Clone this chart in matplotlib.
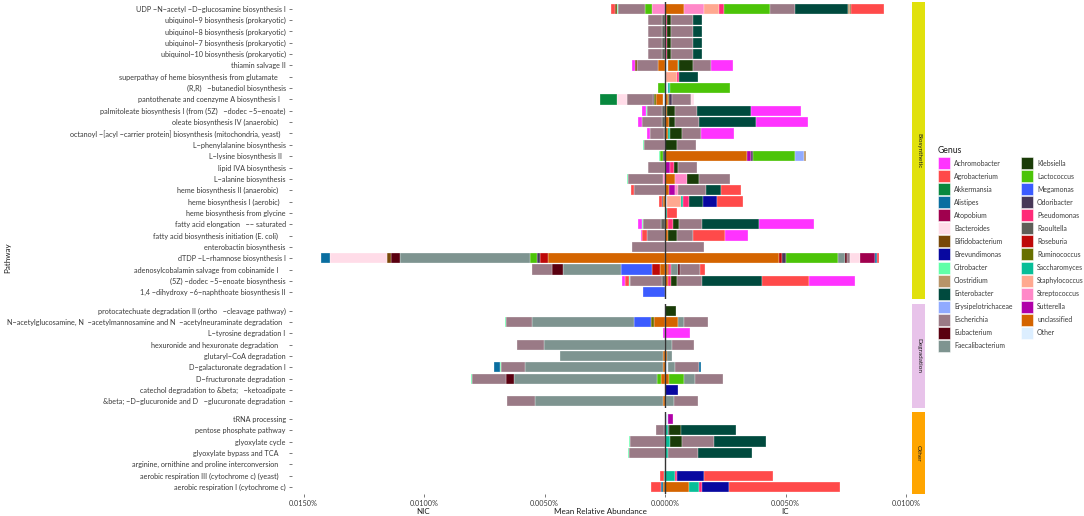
import matplotlib
matplotlib.use("Agg")
import matplotlib.pyplot as plt
from matplotlib.patches import Rectangle

plt.rcParams['font.family'] = ['Lato', 'DejaVu Sans']

# ---------------- data (values in units of 0.001 % mean relative abundance) -------------
genera = ["Achromobacter", "Agrobacterium", "Akkermansia", "Alistipes", "Atopobium",
          "Bacteroides", "Bifidobacterium", "Brevundimonas", "Citrobacter", "Clostridium",
          "Enterobacter", "Erysipelotrichaceae", "Escherichia", "Eubacterium",
          "Faecalibacterium", "Klebsiella", "Lactococcus", "Megamonas", "Odoribacter",
          "Pseudomonas", "Raoultella", "Roseburia", "Ruminococcus", "Saccharomyces",
          "Staphylococcus", "Streptococcus", "Sutterella", "unclassified", "Other"]
genus_colors = ["#FF33FF", "#FF4A4A", "#08883E", "#0A6EA0", "#A0004E",
                "#FFDCE8", "#784808", "#0808A0", "#60FFA8", "#B89468",
                "#004A3E", "#90AAFF", "#9A7A86", "#5A0010",
                "#7E9490", "#1A3C08", "#4CC408", "#3C5CFF", "#483858",
                "#FF2A78", "#5E5E58", "#BE0808", "#687000", "#08BE98",
                "#FFA890", "#FF88C8", "#B000A8", "#D46400", "#DCEEFF"]

facets = ["Biosynthetic", "Degradation", "Other"]
facet_colors = ["#E1E10C", "#E8C3EA", "#FFA500"]

bios_pathways = [
    "UDP −N−acetyl −D−glucosamine biosynthesis I",
    "ubiquinol−9 biosynthesis (prokaryotic)",
    "ubiquinol−8 biosynthesis (prokaryotic)",
    "ubiquinol−7 biosynthesis (prokaryotic)",
    "ubiquinol−10 biosynthesis (prokaryotic)",
    "thiamin salvage II",
    "superpathay of heme biosynthesis from glutamate    ",
    "(R,R)   −butanediol biosynthesis",
    "pantothenate and coenzyme A biosynthesis I   ",
    "palmitoleate biosynthesis I (from (5Z)   −dodec −5−enoate)",
    "oleate biosynthesis IV (anaerobic)    ",
    "octanoyl −[acyl −carrier protein] biosynthesis (mitochondria, yeast)   ",
    "L−phenylalanine biosynthesis",
    "L−lysine biosynthesis II  ",
    "lipid IVA biosynthesis",
    "L−alanine biosynthesis",
    "heme biosynthesis II (anaerobic)    ",
    "heme biosynthesis I (aerobic)   ",
    "heme biosynthesis from glycine",
    "fatty acid elongation   −− saturated",
    "fatty acid biosynthesis initiation (E. coli)    ",
    "enterobactin biosynthesis",
    "dTDP −L−rhamnose biosynthesis I",
    "adenosylcobalamin salvage from cobinamide I    ",
    "(5Z) −dodec −5−enoate biosynthesis",
    "1,4 −dihydroxy −6−naphthoate biosynthesis II",
]
degr_pathways = [
    "protocatechuate degradation II (ortho   −cleavage pathway)",
    "N−acetylglucosamine, N  −acetylmannosamine and N  −acetylneuraminate degradation  ",
    "L−tyrosine degradation I",
    "hexuronide and hexuronate degradation    ",
    "glutaryl−CoA degradation",
    "D−galacturonate degradation I",
    "D−fructuronate degradation",
    "catechol degradation to &beta;   −ketoadipate",
    "&beta; −D−glucuronide and D   −glucuronate degradation",
]
other_pathways = [
    "tRNA processing",
    "pentose phosphate pathway",
    "glyoxylate cycle",
    "glyoxylate bypass and TCA    ",
    "arginine, ornithine and proline interconversion    ",
    "aerobic respiration III (cytochrome c) (yeast)    ",
    "aerobic respiration I (cytochrome c)",
]

ubi_nic = {"Raoultella": .14, "Escherichia": .55, "Citrobacter": .03}
ubi_ic = {"Pseudomonas": .07, "Klebsiella": .17, "Escherichia": .90, "Enterobacter": .41}

bios_nic = [
    {"Streptococcus": .55, "Lactococcus": .28, "Escherichia": 1.11, "Citrobacter": .04, "Bifidobacterium": .10, "Agrobacterium": .18},
    ubi_nic, ubi_nic, ubi_nic, ubi_nic,
    {"unclassified": .28, "Escherichia": .90, "Bifidobacterium": .07, "Achromobacter": .11},
    {},
    {"Lactococcus": .28},
    {"Other": .07, "unclassified": .30, "Ruminococcus": .10, "Odoribacter": .04, "Escherichia": 1.08, "Bacteroides": .41, "Akkermansia": .69},
    {"Raoultella": .14, "Escherichia": .62, "Citrobacter": .04, "Achromobacter": .17},
    {"Raoultella": .14, "Escherichia": .82, "Achromobacter": .18},
    {"Raoultella": .06, "Escherichia": .55, "Achromobacter": .12},
    {"Escherichia": .87, "Citrobacter": .03},
    {"Odoribacter": .10, "Lactococcus": .12, "Citrobacter": .03},
    {"Escherichia": .69, "Citrobacter": .03},
    {"Streptococcus": .10, "Escherichia": 1.45, "Citrobacter": .04},
    {"Escherichia": 1.31, "Agrobacterium": .11},
    {"unclassified": .07, "Odoribacter": .07, "Agrobacterium": .12},
    {},
    {"Raoultella": .17, "Escherichia": .73, "Citrobacter": .06, "Achromobacter": .18},
    {"Escherichia": .73, "Agrobacterium": .22, "Achromobacter": .04},
    {"Escherichia": 1.37},
    {"unclassified": 4.87, "Roseburia": .33, "Odoribacter": .11, "Lactococcus": .30, "Faecalibacterium": 5.39,
     "Eubacterium": .39, "Bifidobacterium": .14, "Bacteroides": 2.39, "Alistipes": .37},
    {"unclassified": .21, "Roseburia": .32, "Megamonas": 1.31, "Faecalibacterium": 2.39, "Eubacterium": .48, "Escherichia": .83},
    {"Raoultella": .14, "Escherichia": 1.30, "Citrobacter": .04, "Agrobacterium": .17, "Achromobacter": .15},
    {"Megamonas": .93},
]
bios_ic = [
    {"unclassified": .77, "Streptococcus": .83, "Staphylococcus": .62, "Pseudomonas": .24, "Lactococcus": 1.91,
     "Escherichia": 1.04, "Enterobacter": 2.19, "Clostridium": .06, "Bifidobacterium": .07, "Agrobacterium": 1.34},
    ubi_ic, ubi_ic, ubi_ic, ubi_ic,
    {"Other": .11, "unclassified": .41, "Saccharomyces": .07, "Klebsiella": .55, "Escherichia": .76, "Achromobacter": .93},
    {"Other": .04, "Staphylococcus": .44, "Pseudomonas": .10, "Enterobacter": .79},
    {"Other": .14, "Saccharomyces": .07, "Lactococcus": 2.49},
    {"unclassified": .11, "Ruminococcus": .07, "Odoribacter": .10, "Escherichia": .79, "Bacteroides": .14},
    {"unclassified": .08, "Klebsiella": .35, "Escherichia": .91, "Enterobacter": 2.24, "Achromobacter": 2.05},
    {"unclassified": .15, "Klebsiella": .28, "Escherichia": .97, "Enterobacter": 2.38, "Achromobacter": 2.14},
    {"unclassified": .11, "Saccharomyces": .08, "Klebsiella": .50, "Escherichia": .79, "Achromobacter": 1.38},
    {"Klebsiella": .48, "Escherichia": .80},
    {"unclassified": 3.39, "Sutterella": .18, "Odoribacter": .07, "Lactococcus": 1.73, "Erysipelotrichaceae": .40, "Clostridium": .08},
    {"Sutterella": .21, "Pseudomonas": .14, "Klebsiella": .18, "Escherichia": .79},
    {"unclassified": .41, "Streptococcus": .48, "Klebsiella": .51, "Escherichia": 1.31},
    {"unclassified": .18, "Sutterella": .25, "Streptococcus": .10, "Escherichia": 1.18, "Enterobacter": .59, "Agrobacterium": .87},
    {"Other": .07, "Staphylococcus": .60, "Saccharomyces": .07, "Pseudomonas": .25, "Enterobacter": .58,
     "Brevundimonas": .59, "Agrobacterium": 1.09},
    {"Saccharomyces": .07, "Agrobacterium": .41},
    {"unclassified": .14, "Pseudomonas": .19, "Klebsiella": .25, "Escherichia": .97, "Enterobacter": 2.35, "Achromobacter": 2.28},
    {"unclassified": .14, "Klebsiella": .37, "Escherichia": .66, "Agrobacterium": 1.31, "Achromobacter": .95},
    {"Escherichia": 1.60},
    {"unclassified": 4.74, "Roseburia": .12, "Odoribacter": .15, "Lactococcus": 2.17, "Faecalibacterium": .30,
     "Eubacterium": .07, "Escherichia": .14, "Bacteroides": .41, "Atopobium": .62, "Alistipes": .08, "Agrobacterium": .07},
    {"unclassified": .11, "Roseburia": .06, "Pseudomonas": .08, "Faecalibacterium": .28, "Eubacterium": .07,
     "Escherichia": .84, "Agrobacterium": .21},
    {"unclassified": .10, "Pseudomonas": .14, "Klebsiella": .26, "Escherichia": 1.04, "Enterobacter": 2.50,
     "Agrobacterium": 1.94, "Achromobacter": 1.91},
    {},
]

degr_nic = [
    {},
    {"unclassified": .48, "Ruminococcus": .10, "Megamonas": .69, "Faecalibacterium": 4.26, "Escherichia": 1.07, "Citrobacter": .03},
    {"Achromobacter": .10},
    {"Faecalibacterium": 5.02, "Escherichia": 1.11},
    {"unclassified": .07, "Faecalibacterium": 4.29},
    {"unclassified": .10, "Faecalibacterium": 5.71, "Escherichia": 1.01, "Citrobacter": .05, "Alistipes": .24},
    {"unclassified": .17, "Lactococcus": .17, "Faecalibacterium": 5.92, "Eubacterium": .35, "Escherichia": 1.41, "Citrobacter": .04},
    {},
    {"unclassified": .10, "Faecalibacterium": 5.28, "Escherichia": 1.19},
]
degr_ic = [
    {"Klebsiella": .44},
    {"unclassified": .55, "Faecalibacterium": .25, "Escherichia": 1.00},
    {"Achromobacter": 1.04},
    {"Faecalibacterium": .28, "Escherichia": .93},
    {"unclassified": .07, "Faecalibacterium": .21},
    {"Other": .11, "Faecalibacterium": .32, "Escherichia": .97, "Alistipes": .07},
    {"unclassified": .17, "Lactococcus": .62, "Faecalibacterium": .44, "Escherichia": 1.18},
    {"Brevundimonas": .55},
    {"unclassified": .05, "Faecalibacterium": .30, "Escherichia": 1.00},
]

other_nic = [
    {},
    {"Odoribacter": .06, "Escherichia": .30},
    {"Escherichia": 1.45, "Citrobacter": .06},
    {"Escherichia": 1.48, "Citrobacter": .06},
    {},
    {"Saccharomyces": .04, "Agrobacterium": .18},
    {"unclassified": .08, "Alistipes": .07, "Agrobacterium": .44},
]
other_ic = [
    {"Other": .10, "Sutterella": .21},
    {"Saccharomyces": .10, "Odoribacter": .07, "Klebsiella": .48, "Enterobacter": 2.31},
    {"Saccharomyces": .21, "Klebsiella": .51, "Escherichia": 1.29, "Enterobacter": 2.18},
    {"Saccharomyces": .12, "Escherichia": 1.26, "Enterobacter": 2.24},
    {},
    {"Saccharomyces": .41, "Pseudomonas": .10, "Brevundimonas": 1.11, "Agrobacterium": 2.85},
    {"unclassified": .98, "Saccharomyces": .43, "Pseudomonas": .12, "Brevundimonas": 1.11, "Agrobacterium": 4.63},
]

x_ticks = [-15, -10, -5, 0, 5, 10]

# ---------------- layout ----------------
W, H = 1084, 516
fig = plt.figure(figsize=(W / 100, H / 100), dpi=100)
color_of = dict(zip(genera, genus_colors))
stack_order = list(reversed(genera))

def fx(px):
    return px / W

def fy(py):
    return 1 - py / H

PL, PR = 292, 909
panel_boxes = [(2, 299), (304, 408), (412, 494)]
panel_data = [(bios_pathways, bios_nic, bios_ic),
              (degr_pathways, degr_nic, degr_ic),
              (other_pathways, other_nic, other_ic)]
TXT = "#3a3a3a"
LAB = 5.2

for k, ((top, bot), (paths, nic, ic)) in enumerate(zip(panel_boxes, panel_data)):
    ax = fig.add_axes([fx(PL), fy(bot), fx(PR) - fx(PL), (bot - top) / H])
    n = len(paths)
    for i in range(n):
        cum = 0.0
        for g in stack_order:
            v = ic[i].get(g)
            if v:
                ax.barh(i, v, left=cum, height=0.9, color=color_of[g],
                        edgecolor=(1, 1, 1, 0.6), linewidth=0.35)
                cum += v
        cum = 0.0
        for g in stack_order:
            v = nic[i].get(g)
            if v:
                ax.barh(i, -v, left=-cum, height=0.9, color=color_of[g],
                        edgecolor=(1, 1, 1, 0.6), linewidth=0.35)
                cum += v
    ax.axvline(0, color="#333333", lw=1.0, zorder=5)
    ax.set_xlim(-15.48, 10.12)
    ax.set_ylim(n - 0.4, -0.6)
    ax.set_yticks(range(n))
    ax.set_yticklabels(paths)
    ax.set_xticks(x_ticks)
    for s in ax.spines.values():
        s.set_visible(False)
    ax.tick_params(axis="y", length=2.0, width=0.5, color="#444444", pad=2.5,
                   labelsize=LAB, labelcolor=TXT)
    if k == 2:
        ax.set_xticklabels([f"{abs(t) / 1000:.4f}%" for t in x_ticks])
        ax.tick_params(axis="x", length=2.0, width=0.5, color="#444444", pad=2,
                       labelsize=LAB, labelcolor=TXT)
    else:
        ax.tick_params(axis="x", length=0, labelbottom=False)

    # facet strip
    fig.add_artist(Rectangle((fx(912), fy(bot)), fx(925) - fx(912), (bot - top) / H,
                             transform=fig.transFigure, facecolor=facet_colors[k],
                             edgecolor="none"))
    fig.text(fx(918.5), fy((top + bot) / 2), facets[k], rotation=270,
             ha="center", va="center", fontsize=4.6, color="#1a1a1a")

# axis titles
fig.text(fx(600), fy(511), "Mean Relative Abundance", ha="center", va="center",
         fontsize=5.8, color="#1a1a1a")
fig.text(fx(423), fy(511), "NIC", ha="center", va="center", fontsize=5.8, color="#1a1a1a")
fig.text(fx(785), fy(511), "IC", ha="center", va="center", fontsize=5.8, color="#1a1a1a")
fig.text(fx(8), fy(258), "Pathway", rotation=90, ha="center", va="center",
         fontsize=5.8, color="#1a1a1a")

# legend
fig.text(fx(938), fy(150), "Genus", ha="left", va="center", fontsize=6.2, color="#1a1a1a")
for j, (g, c) in enumerate(zip(genera, genus_colors)):
    col, row = divmod(j, 15)
    x0 = 938 + col * 83
    yc = 163 + row * 13.07
    fig.add_artist(Rectangle((fx(x0), fy(yc + 6)), fx(12), 12 / H,
                             transform=fig.transFigure, facecolor=c,
                             edgecolor=(1, 1, 1, 0.7), linewidth=0.5))
    fig.text(fx(x0 + 16), fy(yc), g, ha="left", va="center", fontsize=4.95, color=TXT)

fig.savefig("out.png", dpi=100)
